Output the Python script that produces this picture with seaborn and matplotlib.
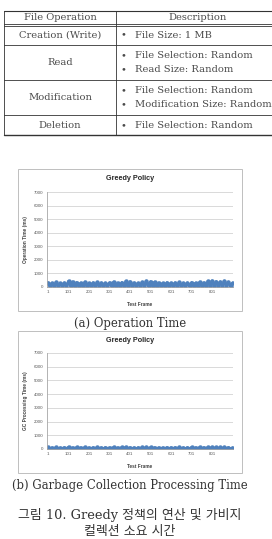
import numpy as np
import pandas as pd
import seaborn as sns
import matplotlib
matplotlib.use("Agg")
import matplotlib.pyplot as plt
from matplotlib.patches import Rectangle

sns.set_theme(style="white")
plt.rcParams['font.family'] = ['DejaVu Serif', 'Noto Sans CJK KR']

# ---------------- data ----------------
table_header = ["File Operation", "Description"]
table_ops = ["Creation (Write)", "Read", "Modification", "Deletion"]
table_desc = [
    ["File Size: 1 MB"],
    ["File Selection: Random", "Read Size: Random"],
    ["File Selection: Random", "Modification Size: Random"],
    ["File Selection: Random"],
]

chart_title = "Greedy Policy"
x_label = "Test Frame"
y_ticks = [0, 1000, 2000, 3000, 4000, 5000, 6000, 7000]
x_tick_labels = [1, 101, 201, 301, 401, 501, 601, 701, 801]

frames = list(range(1, 902, 10))
op_time = [310, 40, 280, 60, 350, 30, 260, 90, 300, 50,
           420, 70, 380, 40, 330, 80, 290, 30, 360, 60,
           270, 50, 310, 20, 340, 70, 300, 40, 280, 90,
           320, 60, 370, 30, 290, 50, 330, 80, 410, 40,
           390, 60, 300, 30, 280, 70, 350, 50, 430, 40,
           400, 80, 360, 30, 300, 60, 270, 40, 320, 50,
           290, 70, 310, 30, 340, 60, 280, 40, 300, 50,
           330, 80, 290, 30, 360, 60, 310, 40, 420, 70,
           450, 50, 400, 60, 380, 30, 430, 70, 360, 40, 300]
gc_time = [120, 10, 90, 20, 110, 5, 80, 30, 100, 15,
           130, 20, 90, 10, 110, 25, 95, 5, 120, 20,
           85, 15, 100, 10, 115, 20, 90, 5, 105, 30,
           95, 15, 120, 10, 90, 20, 110, 25, 130, 10,
           100, 20, 90, 5, 95, 25, 115, 15, 125, 10,
           110, 30, 100, 10, 90, 20, 85, 10, 105, 15,
           95, 25, 100, 10, 115, 20, 90, 10, 100, 15,
           110, 25, 95, 10, 120, 20, 100, 10, 125, 20,
           130, 15, 110, 20, 115, 10, 120, 25, 105, 10, 95]

captions = ["(a) Operation Time", "(b) Garbage Collection Processing Time"]
fig_caption = ["그림 10. Greedy 정책의 연산 및 가비지", "컬렉션 소요 시간"]
y_labels = ["Operation Time (ms)", "GC Processing Time (ms)"]

# ---------------- figure ----------------
W, H = 272, 539
fig = plt.figure(figsize=(W / 100, H / 100), dpi=100)
fig.patch.set_facecolor("white")

bg = fig.add_axes([0, 0, 1, 1])
bg.set_xlim(0, W)
bg.set_ylim(H, 0)
bg.axis("off")

def pos(l, t, r, b):
    return [l / W, 1 - b / H, (r - l) / W, (b - t) / H]

# ---- table ----
line_c = "#333333"
txt_c = "#4a4a4a"
fs_tab = 7.1
tx0, tdiv, tx1 = 4, 116, 280
row_lines = [45, 80, 115]
bg.plot([tx0, tx1], [11, 11], color=line_c, lw=0.8)
bg.plot([tx0, tx1], [23.5, 23.5], color=line_c, lw=0.6)
bg.plot([tx0, tx1], [25.5, 25.5], color=line_c, lw=0.6)
for yl in row_lines:
    bg.plot([tx0, tx1], [yl, yl], color=line_c, lw=0.6)
bg.plot([tx0, tx1], [135, 135], color=line_c, lw=1.0)
bg.plot([tx0, tx0], [11, 135], color=line_c, lw=0.6)
bg.plot([tdiv, tdiv], [11, 135], color=line_c, lw=0.6)

bg.text(60, 17.5, table_header[0], ha="center", va="center", fontsize=fs_tab, color=txt_c)
bg.text(198, 17.5, table_header[1], ha="center", va="center", fontsize=fs_tab, color=txt_c)

row_centers = [35, 62.5, 97.5, 125.5]
for op, desc, yc in zip(table_ops, table_desc, row_centers):
    bg.text(60, yc, op, ha="center", va="center", fontsize=fs_tab, color=txt_c)
    n = len(desc)
    for i, d in enumerate(desc):
        yy = yc + (i - (n - 1) / 2) * 14
        bg.text(123, yy, "•", ha="center", va="center", fontsize=fs_tab, color=txt_c)
        bg.text(135, yy, d, ha="left", va="center", fontsize=fs_tab, color=txt_c)

# ---- charts ----
blue = "#4F81BD"
grid_c = "#D9D9D9"
tick_c = "#595959"
charts = [
    dict(box=(18, 169, 242, 311), area=(47, 192, 233, 287), data=op_time,
         ylabel=y_labels[0], cap=captions[0], capy=323, capx=130),
    dict(box=(18, 331, 242, 473), area=(47, 353, 233, 449), data=gc_time,
         ylabel=y_labels[1], cap=captions[1], capy=485, capx=130),
]
for c in charts:
    bl, bt, br, bb = c["box"]
    bg.add_patch(Rectangle((bl, bt), br - bl, bb - bt, fill=False,
                           edgecolor="#BFBFBF", lw=0.7))
    bg.text(130, bt + 10, chart_title, ha="center", va="center",
            fontsize=5.2, fontweight="bold", color="#262626",
            family=["Liberation Sans"])
    bg.text(c["capx"], c["capy"], c["cap"], ha="center", va="center",
            fontsize=8.4, color="#333333")

    l, t, r, b = c["area"]
    ax = fig.add_axes(pos(l, t, r, b))
    df = pd.DataFrame({"frame": frames, "value": c["data"]})
    sns.lineplot(data=df, x="frame", y="value", ax=ax, color=blue, lw=2.2,
                 marker="o", markersize=3.2, markeredgewidth=0)
    ax.set_ylim(0, 7000)
    ax.set_xlim(-4, 903)
    ax.set_yticks(y_ticks)
    ax.set_yticklabels([str(v) for v in y_ticks], fontsize=3.2, color=tick_c,
                       family="Liberation Sans")
    ax.set_xticks(x_tick_labels)
    ax.set_xticklabels([str(v) for v in x_tick_labels], fontsize=3.2, color=tick_c,
                       family="Liberation Sans")
    ax.tick_params(length=0, pad=2.5)
    ax.grid(axis="y", color=grid_c, lw=0.7)
    ax.grid(axis="x", visible=False)
    ax.set_axisbelow(True)
    for s in ["top", "right"]:
        ax.spines[s].set_visible(False)
    for s in ["left", "bottom"]:
        ax.spines[s].set_color("#A6A6A6")
        ax.spines[s].set_linewidth(0.6)
    ax.set_facecolor("none")
    ax.set_xlabel(x_label, fontsize=3.4, fontweight="bold", color="#404040",
                  family="Liberation Sans")
    ax.set_ylabel(c["ylabel"], fontsize=3.4, fontweight="bold", color="#404040",
                  family="Liberation Sans")
    ax.xaxis.set_label_coords(0.5, -0.155)
    ax.yaxis.set_label_coords(-0.102, 0.5)

bg.text(130, 515, fig_caption[0], ha="center", va="center", fontsize=9.3, color="#333333")
bg.text(130, 531, fig_caption[1], ha="center", va="center", fontsize=9.3, color="#333333")

fig.savefig("out.png", dpi=100, facecolor="white")
